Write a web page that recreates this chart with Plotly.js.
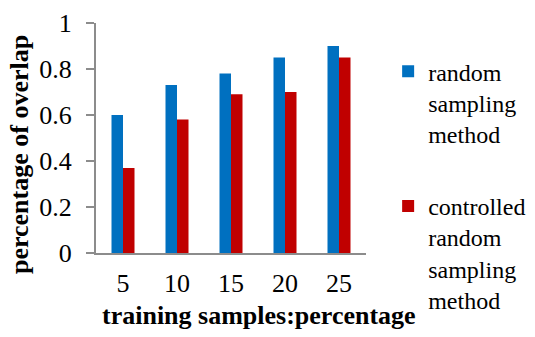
<!DOCTYPE html>
<html>
<head>
<meta charset="utf-8">
<script src="https://cdn.plot.ly/plotly-3.0.1.min.js"></script>
<style>html,body{margin:0;padding:0;background:#fff;}#chart{width:535px;height:337px;}</style>
</head>
<body>
<div id="chart"></div>
<script>
var categories = ["5", "10", "15", "20", "25"];
var randomSampling = [0.60, 0.73, 0.78, 0.85, 0.90];
var controlledSampling = [0.37, 0.58, 0.69, 0.70, 0.85];
var yTicks = [0, 0.2, 0.4, 0.6, 0.8, 1];
var yTickLabels = ["0", "0.2", "0.4", "0.6", "0.8", "1"];
var xTitle = "training samples:percentage";
var yTitle = "percentage of overlap";

var serif = "Liberation Serif";

var traces = [
  {type: "bar", x: categories, y: randomSampling, name: "random<br>sampling<br>method",
   legendgroup: "a", marker: {color: "#0070C0"}},
  {type: "bar", x: categories, y: controlledSampling, name: "controlled<br>random<br>sampling<br>method",
   legendgroup: "b", marker: {color: "#C00000"}}
];

var layout = {
  width: 535, height: 337,
  margin: {l: 96, r: 169, t: 23, b: 84, autoexpand: false},
  paper_bgcolor: "#fff", plot_bgcolor: "#fff",
  font: {family: serif, size: 24, color: "#000"},
  barmode: "group", bargap: 0.574, bargroupgap: 0,
  showlegend: true,
  legend: {x: 1.082, xanchor: "left", yref: "container", y: 0.854, yanchor: "top", valign: "top",
           maxheight: 1,
           font: {family: serif, size: 24, color: "#000"}, tracegroupgap: 38,
           traceorder: "grouped", itemwidth: 30},
  xaxis: {type: "category", range: [-0.5, 4.5], showline: true, linecolor: "#8c8c8c", linewidth: 2,
          ticks: "", showgrid: false, zeroline: false, ticklabelstandoff: 6,
          tickfont: {family: serif, size: 26, color: "#000"}},
  yaxis: {range: [0, 1], tickvals: yTicks, ticktext: yTickLabels, showline: true, linecolor: "#8c8c8c", linewidth: 2,
          ticks: "outside", ticklen: 8, tickwidth: 2, tickcolor: "#8c8c8c", showgrid: false, zeroline: false,
          ticklabelstandoff: 9, tickfont: {family: serif, size: 26, color: "#000"}},
  annotations: [
    {text: "<b>" + xTitle + "</b>", xref: "paper", yref: "paper", x: 0.604, y: -0.27,
     xanchor: "center", yanchor: "middle", showarrow: false,
     font: {family: serif, size: 26, color: "#000"}},
    {text: "<b>" + yTitle + "</b>", xref: "paper", yref: "paper", x: -0.285, y: 0.426,
     xanchor: "center", yanchor: "middle", textangle: -90, showarrow: false,
     font: {family: serif, size: 26, color: "#000"}}
  ]
};

Plotly.newPlot("chart", traces, layout, {displayModeBar: false, staticPlot: true});
</script>
</body>
</html>
